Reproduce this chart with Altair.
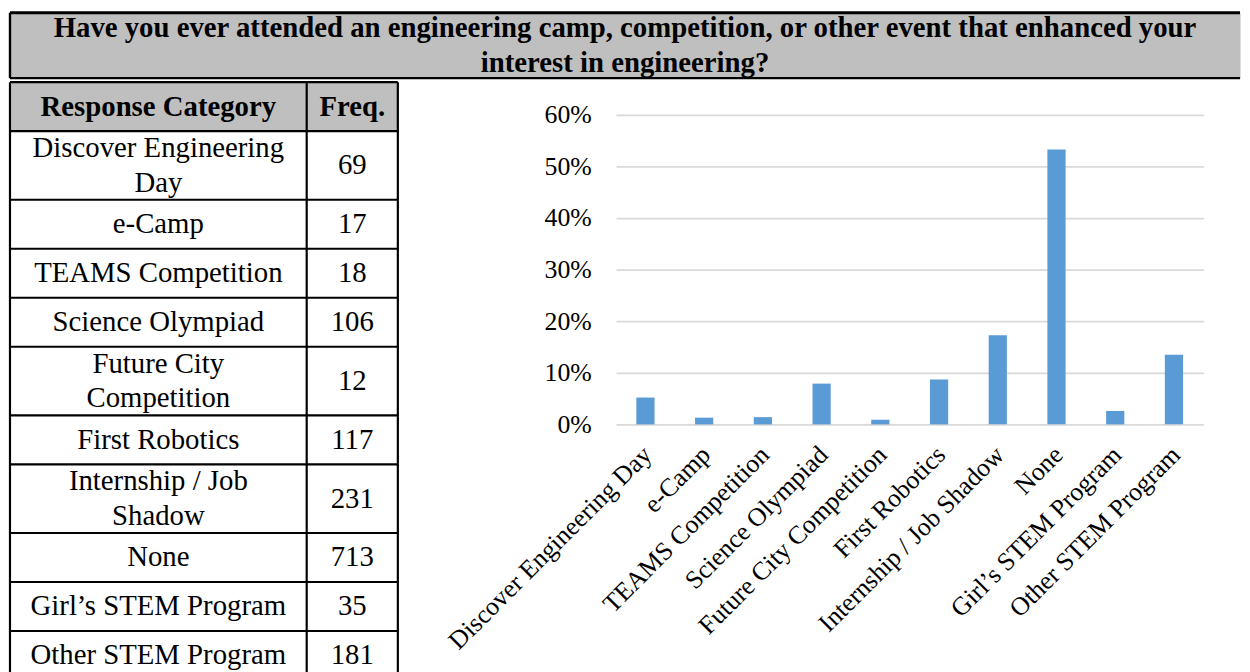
import altair as alt
import pandas as pd

FONT = "Liberation Serif"

# ---------------- data ----------------
title_lines = [
    "Have you ever attended an engineering camp, competition, or other event that enhanced your",
    "interest in engineering?",
]
table_header = ["Response Category", "Freq."]
table_labels = [
    "Discover Engineering\nDay",
    "e-Camp",
    "TEAMS Competition",
    "Science Olympiad",
    "Future City\nCompetition",
    "First Robotics",
    "Internship / Job\nShadow",
    "None",
    "Girl\u2019s STEM Program",
    "Other STEM Program",
]
freq = [69, 17, 18, 106, 12, 117, 231, 713, 35, 181]

categories = [
    "Discover Engineering Day",
    "e-Camp",
    "TEAMS Competition",
    "Science Olympiad",
    "Future City Competition",
    "First Robotics",
    "Internship / Job Shadow",
    "None",
    "Girl\u2019s STEM Program",
    "Other STEM Program",
]
pct = [0.052, 0.013, 0.014, 0.079, 0.009, 0.087, 0.173, 0.533, 0.026, 0.135]
y_ticks = [0, 0.1, 0.2, 0.3, 0.4, 0.5, 0.6]

# ---------------- layout ----------------
TOTAL_W = 1240
TITLE_H = 66
TABLE_W = 391
UNIT = 49.4          # px per single table row
LINE_H = 35          # px between wrapped text lines
COL_EDGES = [0.0, 0.765, 1.0]
PLOT_W = 592
PLOT_H = 312
PLOT_TOP = 33        # gap between table top and the 60% gridline
GRAY = "#bfbfbf"

# ---------------- title band ----------------
title_df = pd.DataFrame({"text": ["\n".join(title_lines)]})
title_text = alt.Chart(title_df).mark_text(
    font=FONT, fontSize=29, fontWeight="bold", lineBreak="\n", lineHeight=LINE_H,
    align="center", baseline="middle", color="black",
    dy=-(len(title_lines) - 1) * LINE_H / 2,
).encode(text="text:N")
top_rule = alt.Chart(title_df).mark_rule(color="black", strokeWidth=3).encode(
    x=alt.value(0), x2=alt.value(TOTAL_W), y=alt.value(0))
bottom_rule = alt.Chart(title_df).mark_rule(color="black", strokeWidth=2.4).encode(
    x=alt.value(0), x2=alt.value(TOTAL_W), y=alt.value(TITLE_H))
left_rule = alt.Chart(title_df).mark_rule(color="black", strokeWidth=2.4).encode(
    x=alt.value(0), y=alt.value(0), y2=alt.value(TITLE_H))
title_chart = alt.layer(title_text, top_rule, bottom_rule, left_rule).properties(
    width=TOTAL_W, height=TITLE_H,
    view=alt.ViewBackground(fill=GRAY, stroke="transparent"),
)

# ---------------- table ----------------
rows = [table_header] + [[lab, str(f)] for lab, f in zip(table_labels, freq)]
cells = []
bounds = [0.0]
y = 0.0
for r, row in enumerate(rows):
    n_lines = row[0].count("\n") + 1
    h = 1.4 if n_lines > 1 else 1.0
    y0, y1 = y, y + h
    for c, txt in enumerate(row):
        lines = txt.count("\n") + 1
        x0, x1 = COL_EDGES[c], COL_EDGES[c + 1]
        yc = (y0 + y1) / 2 - (lines - 1) * (LINE_H / 2) / UNIT
        cells.append({"row": r, "col": c, "text": txt, "x0": x0, "x1": x1,
                      "xc": (x0 + x1) / 2, "y0": y0, "y1": y1, "yc": yc,
                      "header": r == 0})
    y = y1
    bounds.append(y)
ymax = y
TABLE_H = ymax * UNIT
cells_df = pd.DataFrame(cells)
head_df = cells_df[cells_df["header"]]
body_df = cells_df[~cells_df["header"]]
hl_df = pd.DataFrame({"y": bounds, "x0": 0.0, "x1": 1.0})
vl_df = pd.DataFrame({"x": COL_EDGES, "y0": 0.0, "y1": ymax})

xs = alt.Scale(domain=[0, 1])
ys = alt.Scale(domain=[0, ymax], reverse=True)

head_bg = alt.Chart(head_df).mark_rect(color=GRAY).encode(
    x=alt.X("x0:Q", scale=xs, axis=None), x2="x1:Q",
    y=alt.Y("y0:Q", scale=ys, axis=None), y2="y1:Q")
hlines = alt.Chart(hl_df).mark_rule(color="black", strokeWidth=2.2).encode(
    x=alt.X("x0:Q", scale=xs, axis=None), x2="x1:Q",
    y=alt.Y("y:Q", scale=ys, axis=None))
vlines = alt.Chart(vl_df).mark_rule(color="black", strokeWidth=2.2).encode(
    x=alt.X("x:Q", scale=xs, axis=None),
    y=alt.Y("y0:Q", scale=ys, axis=None), y2="y1:Q")
head_text = alt.Chart(head_df).mark_text(
    font=FONT, fontSize=29, fontWeight="bold", color="black", baseline="middle"
).encode(x=alt.X("xc:Q", scale=xs, axis=None),
         y=alt.Y("yc:Q", scale=ys, axis=None), text="text:N")
body_text = alt.Chart(body_df).mark_text(
    font=FONT, fontSize=29, color="black", baseline="middle",
    lineBreak="\n", lineHeight=LINE_H,
).encode(x=alt.X("xc:Q", scale=xs, axis=None),
         y=alt.Y("yc:Q", scale=ys, axis=None), text="text:N")
table_chart = alt.layer(head_bg, head_text, body_text, hlines, vlines).properties(
    width=TABLE_W, height=TABLE_H)

# ---------------- bar chart ----------------
bar_df = pd.DataFrame({"cat": categories, "pct": pct})
bar_chart = alt.Chart(bar_df).mark_bar(color="#5b9bd5").encode(
    x=alt.X("cat:N", sort=categories,
            scale=alt.Scale(paddingInner=0.69, paddingOuter=0.345),
            axis=alt.Axis(title=None, labelAngle=-45, labelFont=FONT, labelFontSize=26,
                          labelColor="black", labelPadding=17, labelOffset=-7,
                          labelLimit=500, labelOverlap=False, domain=False, ticks=False)),
    y=alt.Y("pct:Q", scale=alt.Scale(domain=[0, 0.6], nice=False,
                                      range=[PLOT_TOP + PLOT_H, PLOT_TOP]),
            axis=alt.Axis(title=None, values=y_ticks, format=".0%", labelFont=FONT,
                          labelFontSize=26, labelColor="black", labelPadding=25,
                          domain=False, ticks=False, gridColor="#d9d9d9",
                          gridWidth=1.8, minExtent=217)),
).properties(width=PLOT_W, height=PLOT_TOP + PLOT_H)

chart = alt.vconcat(
    title_chart,
    alt.hconcat(table_chart, bar_chart, spacing=0),
    spacing=0,
).properties(padding=0).configure_view(stroke="transparent")

chart.save("out.html", embed_options={"renderer": "svg", "actions": False})
